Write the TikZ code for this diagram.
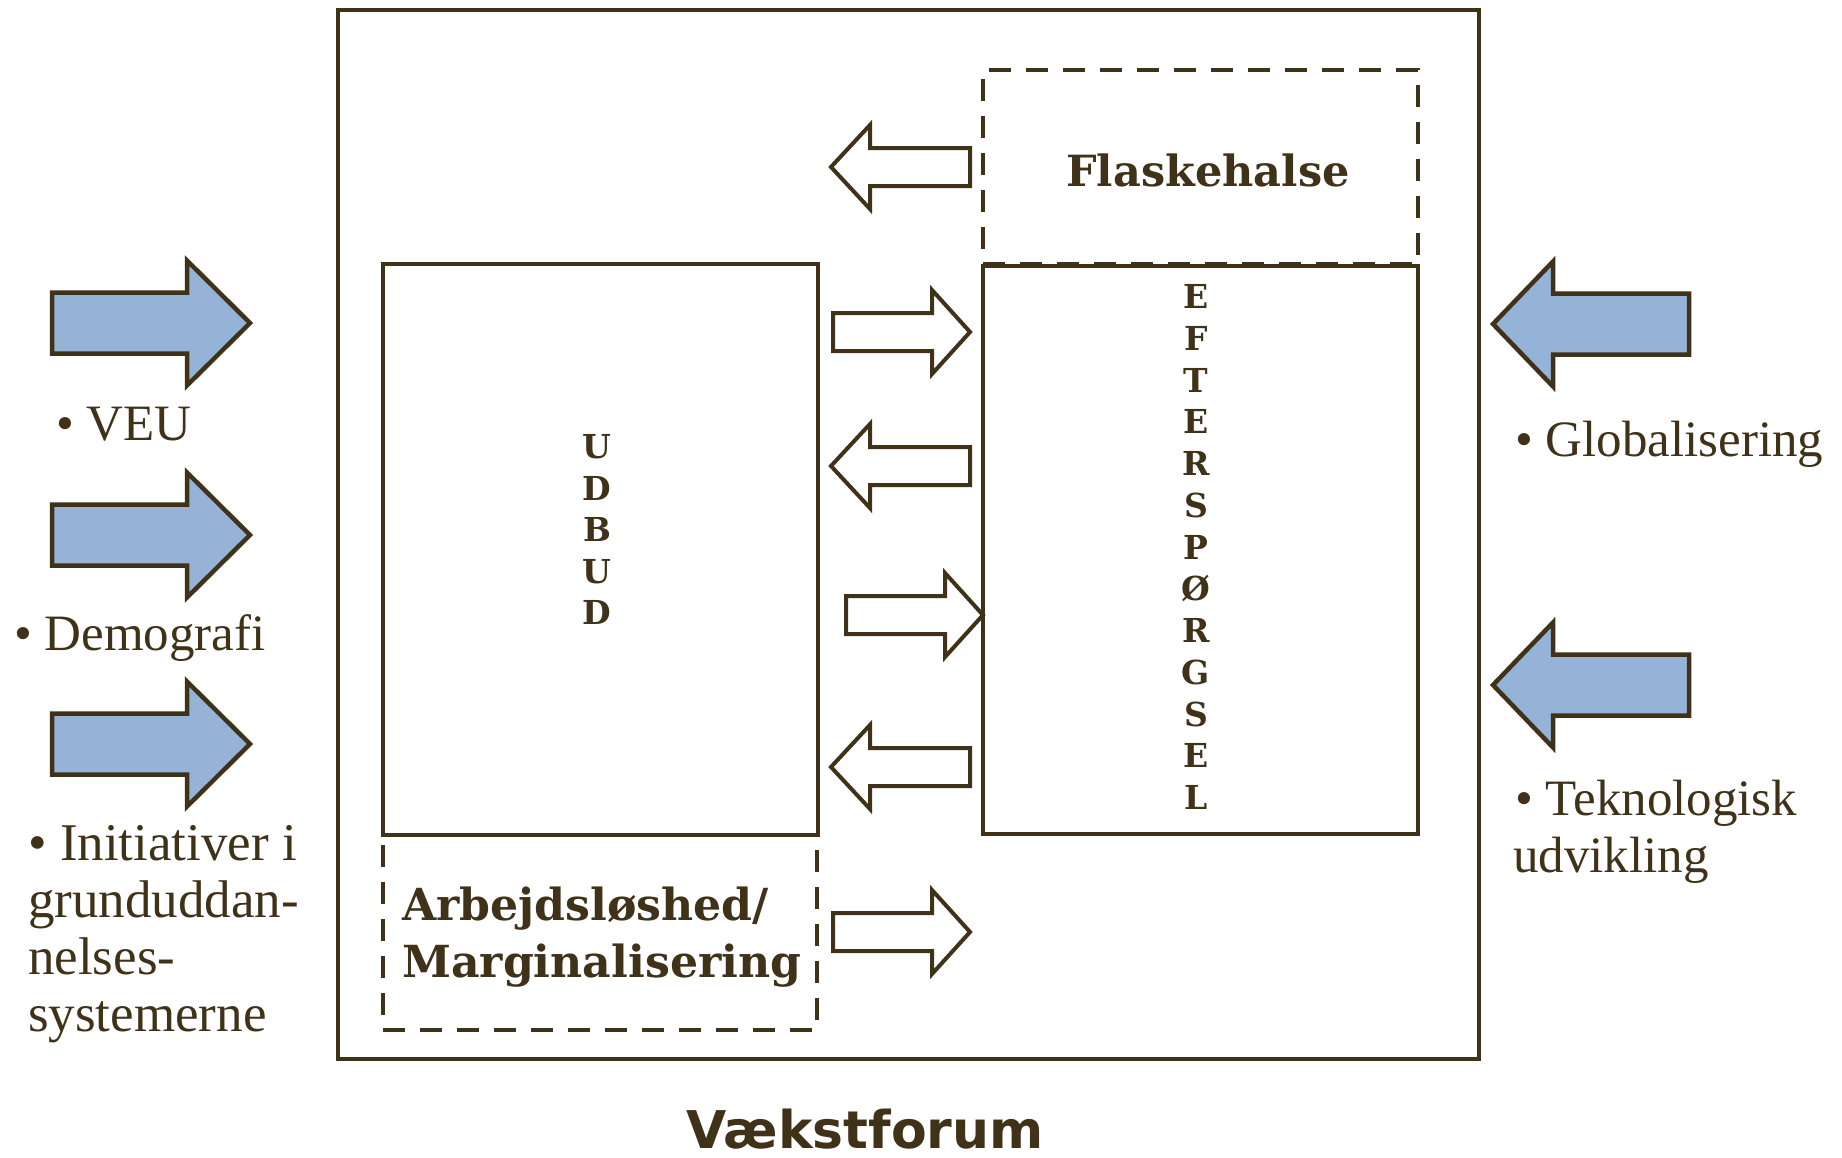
\documentclass[tikz,border=0pt]{standalone}
\usepackage{fontspec}
\setmainfont{Liberation Serif}
\newfontfamily\bserif{DejaVu Serif}
\newfontfamily\vsans{DejaVu Sans}
\definecolor{ink}{HTML}{3F3219}
\definecolor{fillblue}{HTML}{95B3D7}
% #1 style, #2 tail x, #3 head-back x, #4 tip x, #5 y, #6 shaft half height, #7 head half height
\newcommand\blockarrow[7]{%
  \draw[#1] ({#2},{#5-#6}) -- ({#3},{#5-#6}) -- ({#3},{#5-#7}) -- ({#4},{#5})
    -- ({#3},{#5+#7}) -- ({#3},{#5+#6}) -- ({#2},{#5+#6}) -- cycle;}
\begin{document}
\begin{tikzpicture}[x=1pt,y=-1pt,line join=miter,
  frame/.style={draw=ink,line width=4.5pt,inner sep=0pt,outer sep=0pt,anchor=north west},
  dashbox/.style={frame,dash pattern=on 22pt off 15pt},
  hollow/.style={draw=ink,line width=4pt,fill=white},
  inflow/.style={draw=ink,line width=4.5pt,fill=fillblue},
  body/.style={text=ink,inner sep=0pt,anchor=base west,font=\fontsize{51}{57}\selectfont},
  bodywide/.style={body,font=\fontsize{53}{57}\selectfont},
  heavy/.style={text=ink,inner sep=0pt,font=\bserif\bfseries\fontsize{43}{57}\selectfont},
  heavywide/.style={heavy,font=\bserif\bfseries\fontsize{44.2}{57}\selectfont},
  letter/.style={text=ink,inner sep=0pt,anchor=base,font=\bserif\bfseries\fontsize{33}{40}\selectfont}]
\useasboundingbox (0,0) rectangle (1842,1157);
% boxes
\node[frame,minimum width=1141pt,minimum height=1049pt] (outer) at (338,10) {};
\node[dashbox,minimum width=435pt,minimum height=194pt] (flaske) at (983,70) {};
\node[dashbox,minimum width=434pt,minimum height=195pt] (arb) at (383,835) {};
\node[frame,minimum width=435pt,minimum height=571pt] (udbud) at (383,264) {};
\node[frame,minimum width=435pt,minimum height=568pt] (efter) at (983,266) {};
% inner hollow arrows
\blockarrow{hollow}{970}{870}{831}{167}{19}{42}
\blockarrow{hollow}{833}{932}{970}{332}{19}{42}
\blockarrow{hollow}{970}{870}{831}{466}{19}{42}
\blockarrow{hollow}{846}{945}{983}{615}{19}{42}
\blockarrow{hollow}{970}{870}{831}{767}{19}{42}
\blockarrow{hollow}{833}{932}{970}{932}{19}{42}
% outer blue arrows
\blockarrow{inflow}{52}{187}{250}{323}{30.5}{62.5}
\blockarrow{inflow}{52}{187}{250}{535}{30.5}{62.5}
\blockarrow{inflow}{52}{187}{250}{744}{30.5}{62.5}
\blockarrow{inflow}{1689}{1553}{1493}{324}{30.5}{62.5}
\blockarrow{inflow}{1689}{1553}{1493}{685}{30.5}{62.5}
% box texts
\node[heavy,anchor=base] (flasketext) at (1208,186) {Flaskehalse};
\node[heavywide,anchor=base west] (arb1) at (402,920) {Arbejdsløshed/};
\node[heavywide,anchor=base west] (arb2) at (402,977) {Marginalisering};
\foreach \l [count=\i] in {U,D,B,U,D}
  \node[letter] (ud\i) at (597,{458.5+41.5*(\i-1)}) {\l};
\foreach \l [count=\i] in {E,F,T,E,R,S,P,Ø,R,G,S,E,L}
  \node[letter] (ef\i) at (1196,{308.5+41.75*(\i-1)}) {\l};
% side texts
\node[body] (veu) at (56,440) {• VEU};
\node[body] (demo) at (14,650) {• Demografi};
\node[bodywide] (init1) at (28,860) {• Initiativer i};
\node[bodywide] (init2) at (28,917) {grunduddan-};
\node[bodywide] (init3) at (28,974) {nelses-};
\node[bodywide] (init4) at (28,1031) {systemerne};
\node[body] (glob) at (1515,456) {• Globalisering};
\node[body] (tek1) at (1515,815) {• Teknologisk};
\node[body] (tek2) at (1513,872) {udvikling};
% title
\node[text=ink,inner sep=0pt,anchor=base,font=\vsans\bfseries\fontsize{52}{60}\selectfont] (title) at (865,1148) {Vækstforum};
\end{tikzpicture}
\end{document}
